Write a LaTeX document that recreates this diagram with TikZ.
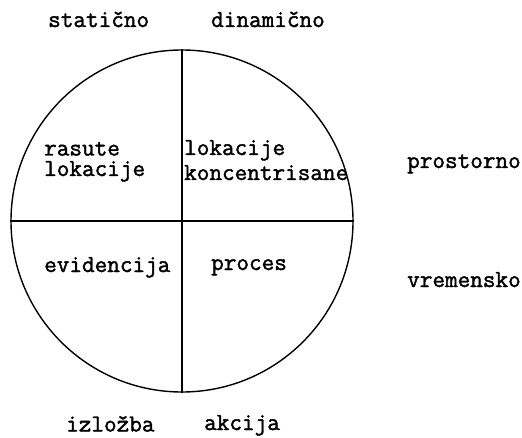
\documentclass[tikz,border=0pt]{standalone}
\usepackage{fontspec}
\newfontfamily\typewriter[FakeBold=1.6]{Latin Modern Mono}
\begin{document}
\begin{tikzpicture}[x=1pt,y=1pt,
  lab/.style={font=\typewriter\fontsize{24.5}{26}\selectfont, inner sep=0pt, anchor=base west, align=left},
  wheel/.style={circle, draw, line width=1.4pt, minimum size=342pt, inner sep=0pt},
  divider/.style={line width=1.4pt}]
\useasboundingbox (0,0) rectangle (522,437);
\node[wheel] (c) at (182,216) {};
\draw[divider] (c.north) -- (c.south);
\draw[divider] (c.west) -- (c.east);
\node[lab] (stat) at (48,410) {statično};
\node[lab] (dyn) at (211,410) {dinamično};
\node[lab] (ras) at (44,281.5) {rasute};
\node[lab] (ras2) at (44,261) {lokacije};
\node[lab] (lok) at (184,282) {lokacije};
\node[lab] (kon) at (184,257) {koncentrisane};
\node[lab] (evi) at (44,165) {evidencija};
\node[lab] (pro) at (211,167) {proces};
\node[lab] (prost) at (407,269) {prostorno};
\node[lab] (vrem) at (407,150) {vremensko};
\node[lab] (izl) at (66,5.5) {izložba};
\node[lab] (akc) at (204,7) {akcija};
\end{tikzpicture}
\end{document}
